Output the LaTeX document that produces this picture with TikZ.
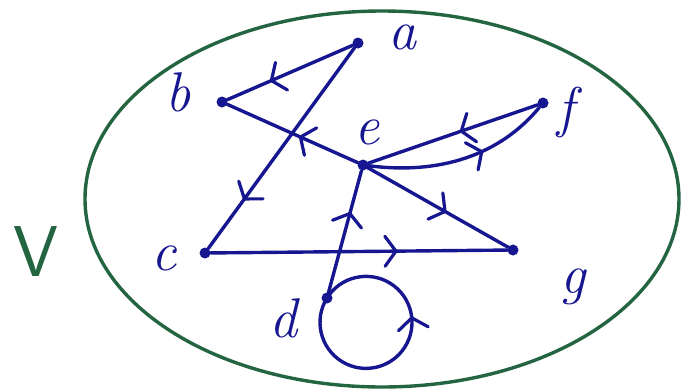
\documentclass[tikz,border=0pt]{standalone}
\usetikzlibrary{decorations.markings,arrows.meta}
\definecolor{pen}{RGB}{22,22,145}
\definecolor{ring}{RGB}{35,100,65}
\tikzset{
  vtx/.style={circle,fill=pen,inner sep=0pt,minimum size=11pt},
  lbl/.style={text=pen,font=\fontsize{56}{56}\selectfont\itshape,inner sep=0pt},
  edge/.style={draw=pen,line width=3.4pt,line cap=round},
  midarrow/.style={postaction={decorate},decoration={markings,
     mark=at position #1 with {\arrow[pen,line width=3.2pt]{Straight Barb[length=11pt,width=30pt,round]}}}},
}
\begin{document}
\begin{tikzpicture}[x=1pt,y=-1pt]
\useasboundingbox (0,0) rectangle (681,389);
% universe
\draw[ring,line width=3.4pt] (382,199) ellipse [x radius=297, y radius=188];
\node[text=ring,font=\fontsize{72}{72}\selectfont\sffamily,inner sep=0pt] (V) at (36,252) {V};
% vertices
\node[vtx] (a) at (358,43) {};
\node[vtx] (b) at (222,102) {};
\node[vtx] (e) at (363,165) {};
\node[vtx] (f) at (543,103) {};
\node[vtx] (c) at (205,253) {};
\node[vtx] (g) at (513,250) {};
\node[vtx] (d) at (327,298) {};
% labels
\node[lbl] (la) at (402,37) {a};
\node[lbl] (lb) at (178,92) {b};
\node[lbl] (lc) at (164,258) {c};
\node[lbl] (ld) at (283,318) {d};
\node[lbl] (le) at (367,132) {e};
\node[lbl] (lf) at (566,112) {f};
\node[lbl] (lg) at (573,287) {g};
% edges
\draw[edge,midarrow=0.66] (a) -- (b);
\draw[edge,midarrow=0.76] (a) -- (c);
\draw[edge,midarrow=0.45] (e) -- (b);
\draw[edge,midarrow=0.46] (f) -- (e);
\draw[edge,midarrow=0.62] (e) .. controls (440,175) and (500,155) .. (f);
\draw[edge,midarrow=0.56] (e) -- (g);
\draw[edge,midarrow=0.63] (c) -- (g);
\draw[edge,midarrow=0.66] (d) -- (e);
\draw[edge,midarrow=0.61] (d.center) arc[start angle=212, end angle=-148, radius=46];
\end{tikzpicture}
\end{document}
